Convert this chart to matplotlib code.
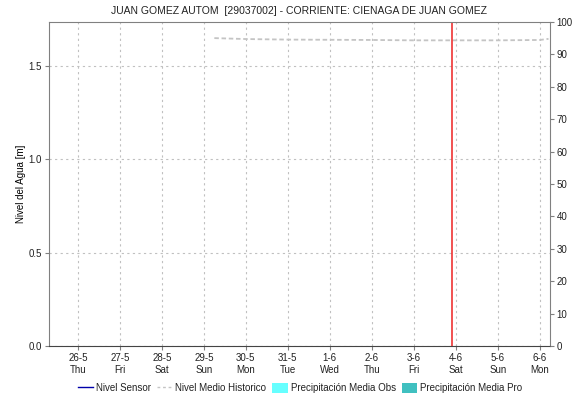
import matplotlib
matplotlib.use("Agg")
import matplotlib.pyplot as plt
import matplotlib.dates as mdates
from matplotlib.patches import Patch
from matplotlib.lines import Line2D
import pandas as pd

plt.rcParams['font.family'] = ['Liberation Sans', 'DejaVu Sans']

# Data
title = "JUAN GOMEZ AUTOM  [29037002] - CORRIENTE: CIENAGA DE JUAN GOMEZ"
tick_days = pd.date_range("2022-05-26", "2022-06-06", freq="D")
hist_times = pd.to_datetime([
    "2022-05-29 06:00", "2022-05-30 00:00", "2022-05-31 00:00", "2022-06-01 00:00",
    "2022-06-02 00:00", "2022-06-03 00:00", "2022-06-04 00:00", "2022-06-05 00:00",
    "2022-06-06 00:00", "2022-06-06 05:00",
])
hist_level = [1.650, 1.645, 1.642, 1.641, 1.640, 1.638, 1.638, 1.638, 1.640, 1.646]
now_time = pd.Timestamp("2022-06-03 21:40")
x_start = pd.Timestamp("2022-05-25 07:30")
x_end = pd.Timestamp("2022-06-06 05:45")

fig = plt.figure(figsize=(5.77, 4.01), dpi=100)
ax = fig.add_axes([0.0849, 0.137, 0.868, 0.808])

ax.plot(hist_times, hist_level, color="#c4c4c4", lw=1.3, ls=(0, (2.5, 1.5)))
ax.axvline(now_time, color="#ee2222", lw=1.1)

ax.set_xlim(x_start, x_end)
ax.set_ylim(0, 1.736)
ax.set_yticks([0.0, 0.5, 1.0, 1.5])
ax.set_yticklabels(["0.0", "0.5", "1.0", "1.5"])
ax.set_xticks(tick_days)
ax.set_xticklabels([d.strftime("%-d-%-m") + "\n" + d.strftime("%a") for d in tick_days])
ax.grid(True, color="#c0c0c0", ls=(0, (2, 3)), lw=0.8)
ax.set_ylabel("Nivel del Agua [m]", fontsize=7, labelpad=2)
ax.set_title(title, fontsize=7.5, pad=6, color="#222222")
ax.tick_params(labelsize=7, length=3, color="#808080", pad=2, labelcolor="#222222")

for side in ["left", "right", "top"]:
    ax.spines[side].set_color("#808080")
ax.spines["bottom"].set_color("#444444")
ax.spines["bottom"].set_linestyle((0, (1, 1)))

ax2 = ax.twinx()
ax2.set_ylim(0, 100)
ax2.set_yticks(range(0, 101, 10))
ax2.tick_params(labelsize=7, length=3, color="#808080", pad=2, labelcolor="#222222")
for side in ax2.spines:
    ax2.spines[side].set_visible(False)

handles = [
    Line2D([], [], color="#0000aa", lw=1),
    Line2D([], [], color="#c4c4c4", lw=1, ls=(0, (2, 2))),
    Patch(facecolor="#66ffff", edgecolor="none"),
    Patch(facecolor="#40c0c0", edgecolor="none"),
]
labels = ["Nivel Sensor", "Nivel Medio Historico", "Precipitación Media Obs", "Precipitación Media Pro"]
fig.legend(handles, labels, loc="center", bbox_to_anchor=(0.52, 0.032), ncol=4,
           frameon=False, fontsize=7, handlelength=1.6, handletextpad=0.3,
           columnspacing=0.6, handleheight=1.2, labelcolor="#222222")

fig.savefig("out.png", dpi=100)
